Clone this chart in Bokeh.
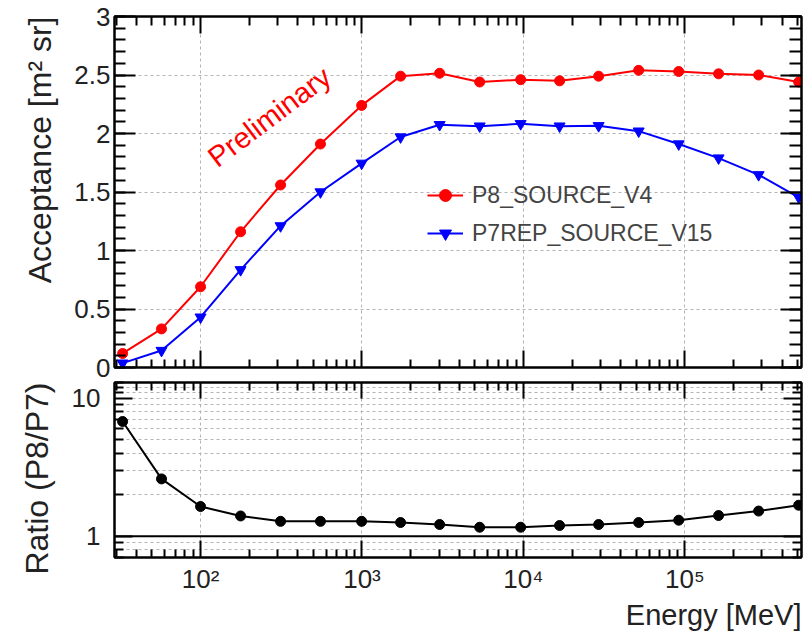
from bokeh.plotting import figure
from bokeh.layouts import column
from bokeh.models import (LinearAxis, LogAxis, FixedTicker, Title, Label, Span)
from bokeh.embed import file_html
from bokeh.resources import INLINE

# Energy bin centres [MeV]
energy = [32.9, 57.3, 100, 177, 313, 553, 995, 1734, 3027, 5358, 9616,
          16750, 29240, 51760, 91620, 161800, 286400, 507000]

# Acceptance [m^2 sr]
acc_p8 = [0.12, 0.33, 0.69, 1.16, 1.56, 1.91, 2.24, 2.49, 2.515, 2.44, 2.46,
          2.45, 2.49, 2.54, 2.53, 2.51, 2.50, 2.44]
acc_p7 = [0.037, 0.145, 0.43, 0.835, 1.21, 1.50, 1.745, 1.97, 2.075, 2.063,
          2.083, 2.063, 2.066, 2.02, 1.91, 1.79, 1.647, 1.455]

# Ratio P8 / P7
ratio = [6.78, 2.60, 1.64, 1.40, 1.28, 1.28, 1.28, 1.255, 1.214, 1.16, 1.16,
         1.194, 1.214, 1.255, 1.305, 1.41, 1.52, 1.675]

label_p8 = "P8_SOURCE_V4"
label_p7 = "P7REP_SOURCE_V15"

x_major = [1e2, 1e3, 1e4, 1e5]
x_minor = [m * d for d in [10, 100, 1000, 10000, 100000] for m in range(2, 10)]
x_labels = {1e2: "10\u00b2", 1e3: "10\u00b3", 1e4: "10\u2074", 1e5: "10\u2075"}
acc_major = [0, 0.5, 1, 1.5, 2, 2.5, 3]
acc_minor = [i / 10 for i in range(0, 31)]
acc_labels = {0: "0", 0.5: "0.5", 1: "1", 1.5: "1.5", 2: "2", 2.5: "2.5", 3: "3"}
ratio_major = [1, 10]
ratio_minor = [0.7, 0.8, 0.9, 2, 3, 4, 5, 6, 7, 8, 9, 11, 12, 13]
ratio_labels = {1: "1", 10: "10"}

FONT = "Liberation Sans"
X_RANGE = (29.3, 528000)
GRID_COLOR = "#b4b4b4"
GRID_DASH = "3 3"


def style_axis(ax, major_in, minor_in, show_labels, size="26px", standoff=4):
    ax.axis_line_color = "black"
    ax.axis_line_width = 2
    ax.major_tick_in = major_in
    ax.major_tick_out = 0
    ax.minor_tick_in = minor_in
    ax.minor_tick_out = 0
    ax.major_tick_line_width = 2
    ax.minor_tick_line_width = 2
    ax.major_tick_line_color = "black"
    ax.minor_tick_line_color = "black"
    ax.major_label_text_font = FONT
    if show_labels:
        ax.major_label_text_color = "#222222"
        ax.major_label_text_font_size = size
        ax.major_label_standoff = standoff
    else:
        # mirrored axes: ticks only
        ax.major_label_text_color = None
        ax.major_label_text_font_size = "1px"
        ax.major_label_standoff = 0


# ---- upper panel: acceptance ----
p1 = figure(width=810, height=381, x_axis_type="log", x_range=X_RANGE,
            y_range=(0, 3), output_backend="svg", toolbar_location=None,
            min_border_left=114, min_border_right=9, min_border_top=16,
            min_border_bottom=14)
p1.outline_line_color = "black"
p1.outline_line_width = 2

for ax in p1.yaxis:
    ax.ticker = FixedTicker(ticks=acc_major, minor_ticks=acc_minor)
    ax.major_label_overrides = acc_labels
    style_axis(ax, 21, 11, True, "26px", 4)
for ax in p1.xaxis:
    ax.ticker = FixedTicker(ticks=x_major, minor_ticks=x_minor)
    style_axis(ax, 17, 8, False)

top1 = LogAxis(ticker=FixedTicker(ticks=x_major, minor_ticks=x_minor))
style_axis(top1, 17, 9, False)
p1.add_layout(top1, "above")
right1 = LinearAxis(ticker=FixedTicker(ticks=acc_major, minor_ticks=acc_minor))
style_axis(right1, 21, 12, False)
p1.add_layout(right1, "right")

p1.xgrid.ticker = FixedTicker(ticks=x_major)
p1.ygrid.ticker = FixedTicker(ticks=acc_major)
for g in (p1.xgrid[0], p1.ygrid[0]):
    g.grid_line_color = GRID_COLOR
    g.grid_line_dash = GRID_DASH
    g.grid_line_width = 1

p1.line(energy, acc_p8, line_color="red", line_width=2, legend_label=label_p8)
p1.scatter(energy, acc_p8, marker="circle", size=10, fill_color="red",
           line_color="red", legend_label=label_p8)
p1.line(energy, acc_p7, line_color="blue", line_width=2, legend_label=label_p7)
p1.scatter(energy, acc_p7, marker="inverted_triangle", size=11,
           fill_color="blue", line_color="blue", legend_label=label_p7)

lg = p1.legend[0]
lg.location = (313, 119)
lg.border_line_color = None
lg.background_fill_alpha = 0
lg.padding = 0
lg.margin = 0
lg.spacing = 8
lg.glyph_width = 36
lg.glyph_height = 30
lg.label_height = 30
lg.label_standoff = 9
lg.label_text_font = FONT
lg.label_text_font_size = "23px"

p1.add_layout(Label(x=117, y=1.77, text="Preliminary", angle=37,
                    angle_units="deg", text_color="red", text_font=FONT,
                    text_font_size="29px", text_baseline="alphabetic",
                    text_align="left"))

p1.add_layout(Title(text="Acceptance [m\u00b2 sr]", align="right",
                    text_font=FONT, text_font_size="32px",
                    text_font_style="normal", text_color="#222222",
                    standoff=28), "left")

# ---- lower panel: ratio ----
p2 = figure(width=810, height=252, x_axis_type="log", y_axis_type="log",
            x_range=X_RANGE, y_range=(0.7, 13), output_backend="svg",
            toolbar_location=None, min_border_left=114, min_border_right=9,
            min_border_top=1, min_border_bottom=76)
p2.outline_line_color = "black"
p2.outline_line_width = 2

for ax in p2.yaxis:
    ax.ticker = FixedTicker(ticks=ratio_major, minor_ticks=ratio_minor)
    ax.major_label_overrides = ratio_labels
    style_axis(ax, 18, 9, True, "26px", 14)
for ax in p2.xaxis:
    ax.ticker = FixedTicker(ticks=x_major, minor_ticks=x_minor)
    ax.major_label_overrides = x_labels
    style_axis(ax, 17, 8, True, "26px", 6)

top2 = LogAxis(ticker=FixedTicker(ticks=x_major, minor_ticks=x_minor))
style_axis(top2, 16, 8, False)
p2.add_layout(top2, "above")
right2 = LogAxis(ticker=FixedTicker(ticks=ratio_major, minor_ticks=ratio_minor))
style_axis(right2, 18, 9, False)
p2.add_layout(right2, "right")

p2.xgrid.ticker = FixedTicker(ticks=x_major)
p2.ygrid.ticker = FixedTicker(ticks=ratio_major, minor_ticks=ratio_minor)
for g in (p2.xgrid[0], p2.ygrid[0]):
    g.grid_line_color = GRID_COLOR
    g.grid_line_dash = GRID_DASH
    g.grid_line_width = 1
p2.ygrid[0].minor_grid_line_color = GRID_COLOR
p2.ygrid[0].minor_grid_line_dash = GRID_DASH
p2.ygrid[0].minor_grid_line_width = 1

p2.add_layout(Span(location=1, dimension="width", line_color="black",
                   line_width=2))
p2.line(energy, ratio, line_color="black", line_width=2)
p2.scatter(energy, ratio, marker="circle", size=10, fill_color="black",
           line_color="black")

p2.add_layout(Title(text="Ratio (P8/P7)", align="right", text_font=FONT,
                    text_font_size="32px", text_font_style="normal",
                    text_color="#222222", standoff=28), "left")
p2.add_layout(Title(text="Energy [MeV]", align="right", text_font=FONT,
                    text_font_size="29px", text_font_style="normal",
                    text_color="#222222", standoff=0), "below")

layout = column(p1, p2, spacing=0)
open("out.html", "w").write(file_html(layout, INLINE))
